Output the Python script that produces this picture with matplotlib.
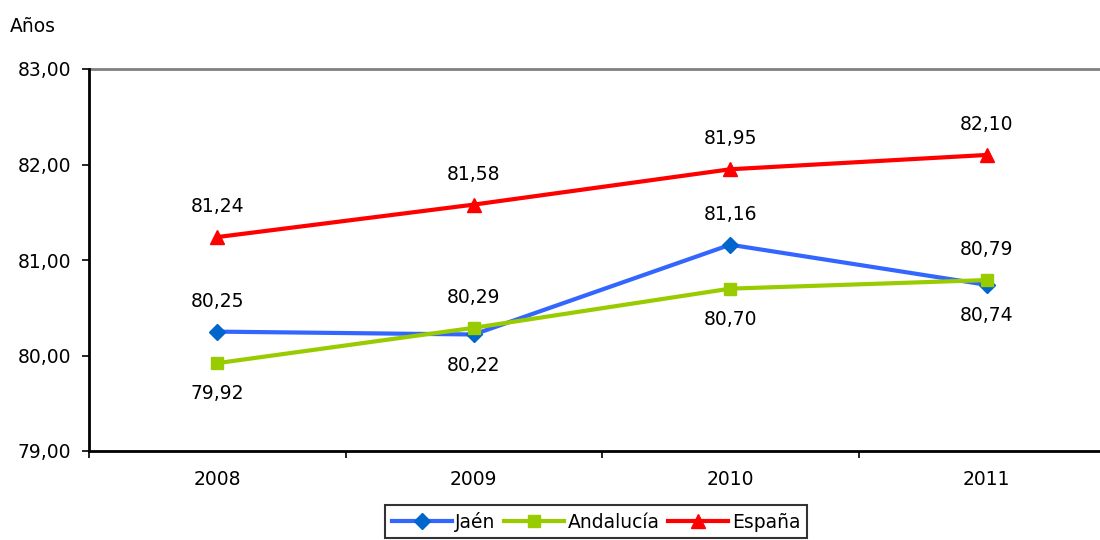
import matplotlib.pyplot as plt
import numpy as np

years = ["2008", "2009", "2010", "2011"]
jaen = [80.25, 80.22, 81.16, 80.74]
andalucia = [79.92, 80.29, 80.70, 80.79]
espana = [81.24, 81.58, 81.95, 82.10]

# label position per point: 1 above, -1 below
jaen_pos = [1, -1, 1, -1]
andalucia_pos = [-1, 1, -1, 1]
espana_pos = [1, 1, 1, 1]

plt.rcParams["font.family"] = "DejaVu Sans"
plt.rcParams["font.size"] = 13.5

fig = plt.figure(figsize=(11, 5.4), dpi=100)
ax = fig.add_axes([89 / 1100, 1 - 451 / 540, (1100 - 89) / 1100, (451 - 69) / 540])

x = np.arange(len(years))
series = [
    ("Jaén", jaen, jaen_pos, "#3366FF", "D", "#0066CC", 8),
    ("Andalucía", andalucia, andalucia_pos, "#99CC00", "s", "#99CC00", 9),
    ("España", espana, espana_pos, "#FF0000", "^", "#FF0000", 10),
]
for name, vals, pos, col, mk, mcol, ms in series:
    ax.plot(x, vals, color=col, lw=3, marker=mk, markersize=ms,
            markerfacecolor=mcol, markeredgecolor=mcol, label=name)
    for xi, v, p in zip(x, vals, pos):
        ax.annotate(f"{v:.2f}".replace(".", ","), (xi, v),
                    xytext=(0, 22 * p), textcoords="offset points",
                    ha="center", va="center")

ax.set_yticks([79, 80, 81, 82, 83])
ax.set_yticklabels([f"{t:.2f}".replace(".", ",") for t in [79, 80, 81, 82, 83]])
ax.set_xticks(x)
ax.set_xticklabels(years)
ax.set_xticks(np.arange(-0.5, 4, 1), minor=True)
ax.tick_params(axis="x", which="major", length=0, pad=14)
ax.tick_params(axis="x", which="minor", length=5, width=1.2, direction="out")
ax.tick_params(axis="y", length=5, width=1.2, direction="out", pad=8)
# the plot area runs past the right edge of the figure
ax.set_ylim(79, 83)
ax.set_xlim(-0.5, -0.5 + (1100 - 89) / 256.5)

for s in ["top", "right"]:
    ax.spines[s].set_visible(False)
for s in ["left", "bottom"]:
    ax.spines[s].set_linewidth(2)
ax.axhline(83, color="#808080", lw=2, clip_on=False)

fig.text(10 / 1100, 1 - 27 / 540, "Años", ha="left", va="center")

leg = fig.legend(loc="upper center", bbox_to_anchor=(596 / 1100, 1 - 505 / 540),
                 ncol=3, frameon=True, fancybox=False, edgecolor="black",
                 handlelength=3.2, handletextpad=0.2, columnspacing=0.45,
                 borderpad=0.35, borderaxespad=0)
leg.get_frame().set_linewidth(1.5)

fig.savefig("out.png", dpi=100)
